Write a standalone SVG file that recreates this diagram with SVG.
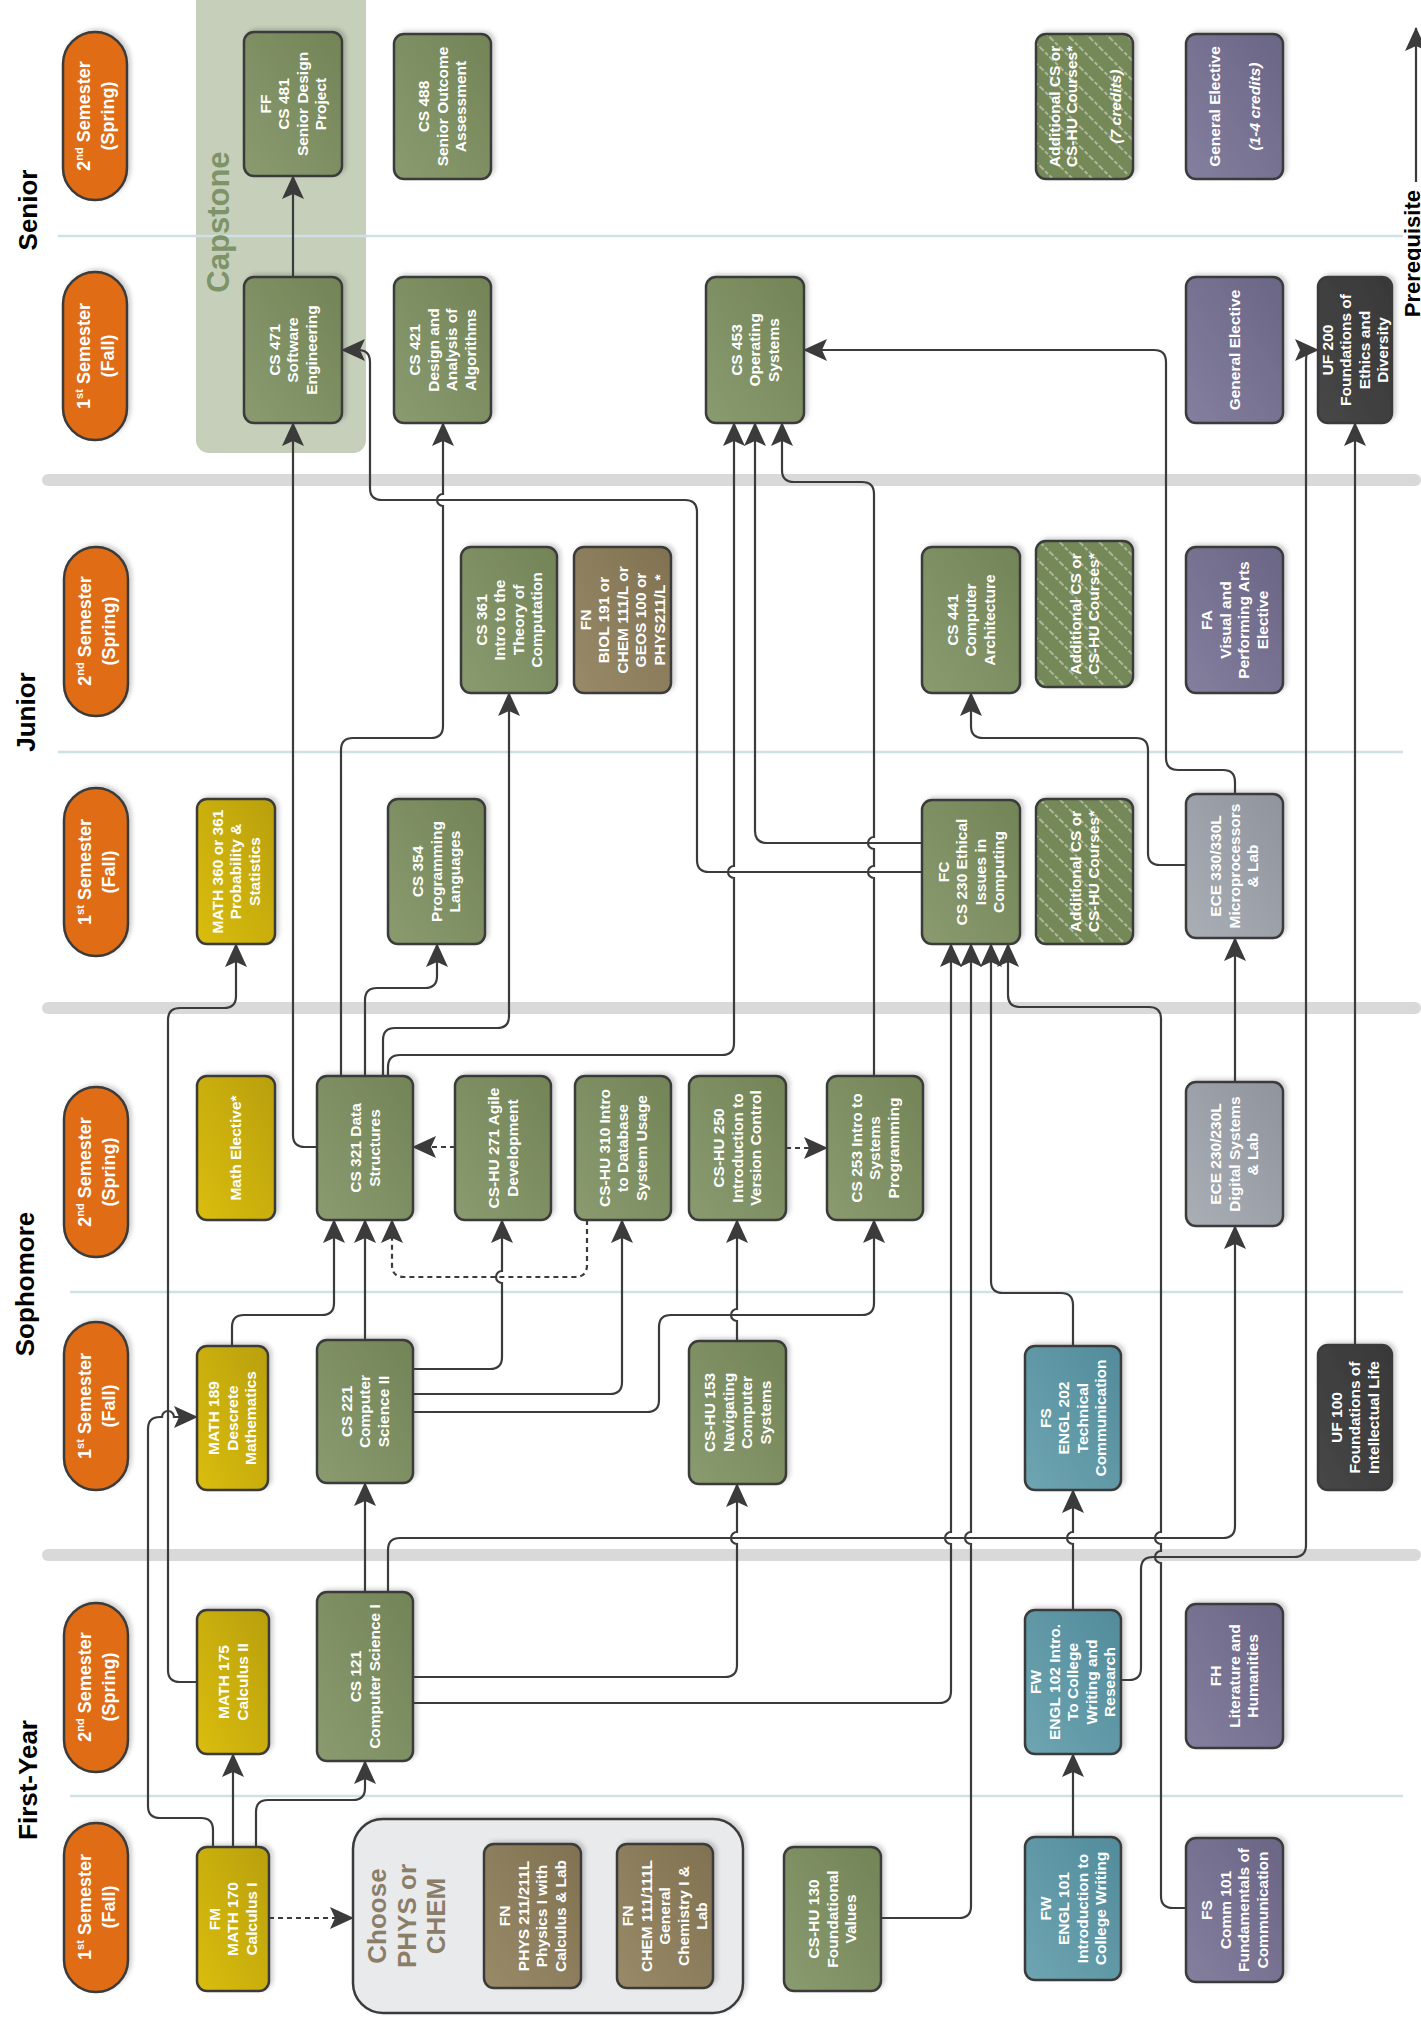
<svg xmlns="http://www.w3.org/2000/svg" width="1421" height="2018" viewBox="0 0 1421 2018">
<style>
.n{stroke:#3b3b3b;stroke-width:2.5;filter:url(#sh)}
.pill{fill:#E06C12;stroke:#3b3b3b;stroke-width:2.5;filter:url(#sh)}
.green{fill:url(#gGreen)}.yellow{fill:url(#gYellow)}.teal{fill:url(#gTeal)}.purple{fill:url(#gPurple)}.gray{fill:url(#gGray)}.brown{fill:url(#gBrown)}.dark{fill:url(#gDark)}.hatch{fill:url(#hatch)}
.t{font-family:"Liberation Sans",Arial,sans-serif;font-weight:700;font-size:15.5px;fill:#fff;text-anchor:middle}
.p{font-family:"Liberation Sans",Arial,sans-serif;font-weight:700;font-size:18px;fill:#fff;text-anchor:middle}
.yr{font-family:"Liberation Sans",Arial,sans-serif;font-weight:700;font-size:26px;fill:#000;text-anchor:middle}
.c{fill:none;stroke:#3b3b3b;stroke-width:2.2;marker-end:url(#arr)}
.d{stroke-dasharray:5 4}
.div{stroke:#CFE0E6;stroke-width:2.5}
.band{stroke:#D9D9D9;stroke-width:12;stroke-linecap:round}
</style>
<defs>
<filter id="sh" x="-15%" y="-15%" width="135%" height="135%"><feDropShadow dx="3" dy="-2" stdDeviation="2" flood-color="#000" flood-opacity="0.18"/></filter>
<linearGradient id="gGreen" x1="0" y1="1" x2="1" y2="0"><stop offset="0" stop-color="#8A9B70"/><stop offset="1" stop-color="#728456"/></linearGradient>
<linearGradient id="gYellow" x1="0" y1="1" x2="1" y2="0"><stop offset="0" stop-color="#DABD10"/><stop offset="1" stop-color="#B9A00C"/></linearGradient>
<linearGradient id="gTeal" x1="0" y1="1" x2="1" y2="0"><stop offset="0" stop-color="#6EA5B1"/><stop offset="1" stop-color="#528B9B"/></linearGradient>
<linearGradient id="gPurple" x1="0" y1="1" x2="1" y2="0"><stop offset="0" stop-color="#847F9E"/><stop offset="1" stop-color="#6A6585"/></linearGradient>
<linearGradient id="gGray" x1="0" y1="1" x2="1" y2="0"><stop offset="0" stop-color="#AAAEB5"/><stop offset="1" stop-color="#8F949D"/></linearGradient>
<linearGradient id="gBrown" x1="0" y1="1" x2="1" y2="0"><stop offset="0" stop-color="#998A68"/><stop offset="1" stop-color="#807151"/></linearGradient>
<linearGradient id="gDark" x1="0" y1="1" x2="1" y2="0"><stop offset="0" stop-color="#474747"/><stop offset="1" stop-color="#383838"/></linearGradient>
<pattern id="hatch" width="14" height="14" patternUnits="userSpaceOnUse" patternTransform="rotate(-45)"><rect width="14" height="14" fill="#758859"/><line x1="2" y1="0" x2="2" y2="14" stroke="#C9D2BA" stroke-width="1.3" stroke-dasharray="4 2"/></pattern>
<marker id="arr" viewBox="0 0 24 24" refX="23" refY="12" markerWidth="24" markerHeight="24" markerUnits="userSpaceOnUse" orient="auto"><path d="M0,1 L24,12 L0,23 L5,12 z" fill="#3b3b3b"/></marker>
</defs>
<rect width="1421" height="2018" fill="#fff"/>

<g id="capstone-bg"><rect x="196" y="-12" width="170" height="465" rx="13" fill="#C5CFBA"/></g>

<g id="grid">
<line class="band" x1="48" y1="480" x2="1415" y2="480"/>
<line class="band" x1="48" y1="1008" x2="1415" y2="1008"/>
<line class="band" x1="48" y1="1555" x2="1415" y2="1555"/>
<line class="div" x1="58" y1="236" x2="1403" y2="236"/>
<line class="div" x1="58" y1="752" x2="1403" y2="752"/>
<line class="div" x1="70" y1="1292" x2="1403" y2="1292"/>
<line class="div" x1="70" y1="1796" x2="1403" y2="1796"/>
</g>

<g id="capstone-label"><text transform="translate(229,222) rotate(-90)" font-family="Liberation Sans, Arial, sans-serif" font-weight="700" font-size="31" fill="#7D9469" text-anchor="middle">Capstone</text></g>

<g id="year-labels">
<text class="yr" transform="translate(37,210) rotate(-90)">Senior</text>
<text class="yr" transform="translate(35,712) rotate(-90)">Junior</text>
<text class="yr" transform="translate(34,1284) rotate(-90)">Sophomore</text>
<text class="yr" transform="translate(37,1780) rotate(-90)">First-Year</text>
</g>

<g id="sem-sr2"><rect class="pill" x="63" y="32" width="64" height="168" rx="32"/><text class="p" transform="translate(95,116) rotate(-90)"><tspan x="0" y="-5.5">2</tspan><tspan dy="-7" font-size="11">nd</tspan><tspan dy="7"> Semester</tspan><tspan x="0" y="18.5">(Spring)</tspan></text></g>
<g id="sem-sr1"><rect class="pill" x="63" y="272" width="64" height="168" rx="32"/><text class="p" transform="translate(95,356) rotate(-90)"><tspan x="0" y="-5.5">1</tspan><tspan dy="-7" font-size="11">st</tspan><tspan dy="7"> Semester</tspan><tspan x="0" y="18.5">(Fall)</tspan></text></g>
<g id="sem-jr2"><rect class="pill" x="64" y="547" width="64" height="169" rx="32"/><text class="p" transform="translate(96,631) rotate(-90)"><tspan x="0" y="-5.5">2</tspan><tspan dy="-7" font-size="11">nd</tspan><tspan dy="7"> Semester</tspan><tspan x="0" y="18.5">(Spring)</tspan></text></g>
<g id="sem-jr1"><rect class="pill" x="64" y="788" width="64" height="168" rx="32"/><text class="p" transform="translate(96,872) rotate(-90)"><tspan x="0" y="-5.5">1</tspan><tspan dy="-7" font-size="11">st</tspan><tspan dy="7"> Semester</tspan><tspan x="0" y="18.5">(Fall)</tspan></text></g>
<g id="sem-so2"><rect class="pill" x="64" y="1087" width="64" height="170" rx="32"/><text class="p" transform="translate(96,1172) rotate(-90)"><tspan x="0" y="-5.5">2</tspan><tspan dy="-7" font-size="11">nd</tspan><tspan dy="7"> Semester</tspan><tspan x="0" y="18.5">(Spring)</tspan></text></g>
<g id="sem-so1"><rect class="pill" x="64" y="1322" width="64" height="168" rx="32"/><text class="p" transform="translate(96,1406) rotate(-90)"><tspan x="0" y="-5.5">1</tspan><tspan dy="-7" font-size="11">st</tspan><tspan dy="7"> Semester</tspan><tspan x="0" y="18.5">(Fall)</tspan></text></g>
<g id="sem-fy2"><rect class="pill" x="64" y="1603" width="64" height="169" rx="32"/><text class="p" transform="translate(96,1687) rotate(-90)"><tspan x="0" y="-5.5">2</tspan><tspan dy="-7" font-size="11">nd</tspan><tspan dy="7"> Semester</tspan><tspan x="0" y="18.5">(Spring)</tspan></text></g>
<g id="sem-fy1"><rect class="pill" x="64" y="1823" width="64" height="169" rx="32"/><text class="p" transform="translate(96,1907) rotate(-90)"><tspan x="0" y="-5.5">1</tspan><tspan dy="-7" font-size="11">st</tspan><tspan dy="7"> Semester</tspan><tspan x="0" y="18.5">(Fall)</tspan></text></g>

<g id="cs481"><rect class="n green" x="244" y="32" width="98" height="144" rx="10"/><text class="t" transform="translate(293,104) rotate(-90)"><tspan x="0" y="-22.35">FF</tspan><tspan x="0" y="-3.85">CS 481</tspan><tspan x="0" y="14.65">Senior Design</tspan><tspan x="0" y="33.15">Project</tspan></text></g>
<g id="cs488"><rect class="n green" x="394" y="34" width="97" height="145" rx="10"/><text class="t" transform="translate(442.5,106.5) rotate(-90)"><tspan x="0" y="-13.1">CS 488</tspan><tspan x="0" y="5.4">Senior Outcome</tspan><tspan x="0" y="23.9">Assessment</tspan></text></g>
<g id="addcs-sr"><rect class="n hatch" x="1036" y="34" width="97" height="145" rx="10"/><text class="t" transform="translate(1084.5,106.5) rotate(-90)"><tspan x="0" y="-24.1">Additional CS or</tspan><tspan x="0" y="-7.1">CS-HU Courses*</tspan><tspan x="0" y="36.9" font-style="italic">(7 credits)</tspan></text></g>
<g id="gen-sr2"><rect class="n purple" x="1186" y="34" width="97" height="145" rx="10"/><text class="t" transform="translate(1234.5,106.5) rotate(-90)"><tspan x="0" y="-14.1">General Elective</tspan><tspan x="0" y="25.9" font-style="italic">(1-4 credits)</tspan></text></g>
<g id="cs471"><rect class="n green" x="244" y="277" width="98" height="146" rx="10"/><text class="t" transform="translate(293,350) rotate(-90)"><tspan x="0" y="-13.1">CS 471</tspan><tspan x="0" y="5.4">Software</tspan><tspan x="0" y="23.9">Engineering</tspan></text></g>
<g id="cs421"><rect class="n green" x="394" y="277" width="97" height="146" rx="10"/><text class="t" transform="translate(442.5,350) rotate(-90)"><tspan x="0" y="-22.35">CS 421</tspan><tspan x="0" y="-3.85">Design and</tspan><tspan x="0" y="14.65">Analysis of</tspan><tspan x="0" y="33.15">Algorithms</tspan></text></g>
<g id="cs453"><rect class="n green" x="706" y="277" width="98" height="146" rx="10"/><text class="t" transform="translate(755,350) rotate(-90)"><tspan x="0" y="-13.1">CS 453</tspan><tspan x="0" y="5.4">Operating</tspan><tspan x="0" y="23.9">Systems</tspan></text></g>
<g id="gen-sr1"><rect class="n purple" x="1186" y="277" width="97" height="146" rx="10"/><text class="t" transform="translate(1234.5,350) rotate(-90)"><tspan x="0" y="5.4">General Elective</tspan></text></g>
<g id="uf200"><rect class="n dark" x="1318" y="277" width="74" height="146" rx="10"/><text class="t" transform="translate(1355,350) rotate(-90)"><tspan x="0" y="-22.35">UF 200</tspan><tspan x="0" y="-3.85">Foundations of</tspan><tspan x="0" y="14.65">Ethics and</tspan><tspan x="0" y="33.15">Diversity</tspan></text></g>

<g id="cs361"><rect class="n green" x="461" y="547" width="96" height="146" rx="10"/><text class="t" transform="translate(509,620) rotate(-90)"><tspan x="0" y="-22.35">CS 361</tspan><tspan x="0" y="-3.85">Intro to the</tspan><tspan x="0" y="14.65">Theory of</tspan><tspan x="0" y="33.15">Computation</tspan></text></g>
<g id="fn-sci"><rect class="n brown" x="574" y="547" width="97" height="146" rx="10"/><text class="t" transform="translate(622.5,620) rotate(-90)"><tspan x="0" y="-31.6">FN</tspan><tspan x="0" y="-13.1">BIOL 191 or</tspan><tspan x="0" y="5.4">CHEM 111/L or</tspan><tspan x="0" y="23.9">GEOS 100 or</tspan><tspan x="0" y="42.4">PHYS211/L *</tspan></text></g>
<g id="cs441"><rect class="n green" x="922" y="547" width="98" height="146" rx="10"/><text class="t" transform="translate(971,620) rotate(-90)"><tspan x="0" y="-13.1">CS 441</tspan><tspan x="0" y="5.4">Computer</tspan><tspan x="0" y="23.9">Architecture</tspan></text></g>
<g id="addcs-jr2"><rect class="n hatch" x="1036" y="541" width="97" height="146" rx="10"/><text class="t" transform="translate(1084.5,614) rotate(-90)"><tspan x="0" y="-3.85">Additional CS or</tspan><tspan x="0" y="14.65">CS-HU Courses*</tspan></text></g>
<g id="fa"><rect class="n purple" x="1186" y="547" width="97" height="146" rx="10"/><text class="t" transform="translate(1234.5,620) rotate(-90)"><tspan x="0" y="-22.35">FA</tspan><tspan x="0" y="-3.85">Visual and</tspan><tspan x="0" y="14.65">Performing Arts</tspan><tspan x="0" y="33.15">Elective</tspan></text></g>

<g id="math360"><rect class="n yellow" x="197" y="799" width="78" height="145" rx="10"/><text class="t" transform="translate(236,871.5) rotate(-90)"><tspan x="0" y="-13.1">MATH 360 or 361</tspan><tspan x="0" y="5.4">Probability &amp;</tspan><tspan x="0" y="23.9">Statistics</tspan></text></g>
<g id="cs354"><rect class="n green" x="388" y="799" width="97" height="145" rx="10"/><text class="t" transform="translate(436.5,871.5) rotate(-90)"><tspan x="0" y="-13.1">CS 354</tspan><tspan x="0" y="5.4">Programming</tspan><tspan x="0" y="23.9">Languages</tspan></text></g>
<g id="cs230"><rect class="n green" x="922" y="800" width="98" height="144" rx="10"/><text class="t" transform="translate(971,872) rotate(-90)"><tspan x="0" y="-22.35">FC</tspan><tspan x="0" y="-3.85">CS 230 Ethical</tspan><tspan x="0" y="14.65">Issues in</tspan><tspan x="0" y="33.15">Computing</tspan></text></g>
<g id="addcs-jr1"><rect class="n hatch" x="1036" y="799" width="97" height="145" rx="10"/><text class="t" transform="translate(1084.5,871.5) rotate(-90)"><tspan x="0" y="-3.85">Additional CS or</tspan><tspan x="0" y="14.65">CS-HU Courses*</tspan></text></g>
<g id="ece330"><rect class="n gray" x="1186" y="794" width="97" height="144" rx="10"/><text class="t" transform="translate(1234.5,866) rotate(-90)"><tspan x="0" y="-13.1">ECE 330/330L</tspan><tspan x="0" y="5.4">Microprocessors</tspan><tspan x="0" y="23.9">&amp; Lab</tspan></text></g>

<g id="math-elective"><rect class="n yellow" x="197" y="1076" width="78" height="144" rx="10"/><text class="t" transform="translate(236,1148) rotate(-90)"><tspan x="0" y="5.4">Math Elective*</tspan></text></g>
<g id="cs321"><rect class="n green" x="317" y="1076" width="96" height="144" rx="10"/><text class="t" transform="translate(365,1148) rotate(-90)"><tspan x="0" y="-3.85">CS 321 Data</tspan><tspan x="0" y="14.65">Structures</tspan></text></g>
<g id="cshu271"><rect class="n green" x="455" y="1076" width="96" height="144" rx="10"/><text class="t" transform="translate(503,1148) rotate(-90)"><tspan x="0" y="-3.85">CS-HU 271 Agile</tspan><tspan x="0" y="14.65">Development</tspan></text></g>
<g id="cshu310"><rect class="n green" x="575" y="1076" width="96" height="144" rx="10"/><text class="t" transform="translate(623,1148) rotate(-90)"><tspan x="0" y="-13.1">CS-HU 310 Intro</tspan><tspan x="0" y="5.4">to Database</tspan><tspan x="0" y="23.9">System Usage</tspan></text></g>
<g id="cshu250"><rect class="n green" x="689" y="1076" width="97" height="144" rx="10"/><text class="t" transform="translate(737.5,1148) rotate(-90)"><tspan x="0" y="-13.1">CS-HU 250</tspan><tspan x="0" y="5.4">Introduction to</tspan><tspan x="0" y="23.9">Version Control</tspan></text></g>
<g id="cs253"><rect class="n green" x="827" y="1076" width="96" height="144" rx="10"/><text class="t" transform="translate(875,1148) rotate(-90)"><tspan x="0" y="-13.1">CS 253 Intro to</tspan><tspan x="0" y="5.4">Systems</tspan><tspan x="0" y="23.9">Programming</tspan></text></g>
<g id="ece230"><rect class="n gray" x="1186" y="1082" width="97" height="144" rx="10"/><text class="t" transform="translate(1234.5,1154) rotate(-90)"><tspan x="0" y="-13.1">ECE 230/230L</tspan><tspan x="0" y="5.4">Digital Systems</tspan><tspan x="0" y="23.9">&amp; Lab</tspan></text></g>

<g id="math189"><rect class="n yellow" x="197" y="1346" width="71" height="144" rx="10"/><text class="t" transform="translate(232.5,1418) rotate(-90)"><tspan x="0" y="-13.1">MATH 189</tspan><tspan x="0" y="5.4">Descrete</tspan><tspan x="0" y="23.9">Mathematics</tspan></text></g>
<g id="cs221"><rect class="n green" x="317" y="1340" width="96" height="143" rx="10"/><text class="t" transform="translate(365,1411.5) rotate(-90)"><tspan x="0" y="-13.1">CS 221</tspan><tspan x="0" y="5.4">Computer</tspan><tspan x="0" y="23.9">Science II</tspan></text></g>
<g id="cshu153"><rect class="n green" x="689" y="1341" width="97" height="143" rx="10"/><text class="t" transform="translate(737.5,1412.5) rotate(-90)"><tspan x="0" y="-22.35">CS-HU 153</tspan><tspan x="0" y="-3.85">Navigating</tspan><tspan x="0" y="14.65">Computer</tspan><tspan x="0" y="33.15">Systems</tspan></text></g>
<g id="engl202"><rect class="n teal" x="1025" y="1346" width="96" height="144" rx="10"/><text class="t" transform="translate(1073,1418) rotate(-90)"><tspan x="0" y="-22.35">FS</tspan><tspan x="0" y="-3.85">ENGL 202</tspan><tspan x="0" y="14.65">Technical</tspan><tspan x="0" y="33.15">Communication</tspan></text></g>
<g id="uf100"><rect class="n dark" x="1318" y="1345" width="74" height="145" rx="10"/><text class="t" transform="translate(1355,1417.5) rotate(-90)"><tspan x="0" y="-13.1">UF 100</tspan><tspan x="0" y="5.4">Foundations of</tspan><tspan x="0" y="23.9">Intellectual Life</tspan></text></g>

<g id="math175"><rect class="n yellow" x="197" y="1610" width="72" height="144" rx="10"/><text class="t" transform="translate(233,1682) rotate(-90)"><tspan x="0" y="-3.85">MATH 175</tspan><tspan x="0" y="14.65">Calculus II</tspan></text></g>
<g id="cs121"><rect class="n green" x="317" y="1592" width="96" height="169" rx="10"/><text class="t" transform="translate(365,1676.5) rotate(-90)"><tspan x="0" y="-3.85">CS 121</tspan><tspan x="0" y="14.65">Computer Science I</tspan></text></g>
<g id="engl102"><rect class="n teal" x="1025" y="1610" width="96" height="144" rx="10"/><text class="t" transform="translate(1073,1682) rotate(-90)"><tspan x="0" y="-31.6">FW</tspan><tspan x="0" y="-13.1">ENGL 102 Intro.</tspan><tspan x="0" y="5.4">To College</tspan><tspan x="0" y="23.9">Writing and</tspan><tspan x="0" y="42.4">Research</tspan></text></g>
<g id="fh"><rect class="n purple" x="1186" y="1604" width="97" height="144" rx="10"/><text class="t" transform="translate(1234.5,1676) rotate(-90)"><tspan x="0" y="-13.1">FH</tspan><tspan x="0" y="5.4">Literature and</tspan><tspan x="0" y="23.9">Humanities</tspan></text></g>

<g id="math170"><rect class="n yellow" x="197" y="1847" width="72" height="144" rx="10"/><text class="t" transform="translate(233,1919) rotate(-90)"><tspan x="0" y="-13.1">FM</tspan><tspan x="0" y="5.4">MATH 170</tspan><tspan x="0" y="23.9">Calculus I</tspan></text></g>
<g id="choose"><rect x="353" y="1819" width="390" height="194" rx="30" fill="#E9EAEC" stroke="#3b3b3b" stroke-width="2.5" filter="url(#sh)"/><text transform="translate(406,1916) rotate(-90)" font-family="Liberation Sans, Arial, sans-serif" font-weight="700" font-size="26" fill="#8B7E69" text-anchor="middle"><tspan x="0" y="-20">Choose</tspan><tspan x="0" y="9.5">PHYS or</tspan><tspan x="0" y="39">CHEM</tspan></text></g>
<g id="phys211"><rect class="n brown" x="484" y="1844" width="97" height="144" rx="10"/><text class="t" transform="translate(532.5,1916) rotate(-90)"><tspan x="0" y="-22.35">FN</tspan><tspan x="0" y="-3.85">PHYS 211/211L</tspan><tspan x="0" y="14.65">Physics I with</tspan><tspan x="0" y="33.15">Calculus &amp; Lab</tspan></text></g>
<g id="chem111"><rect class="n brown" x="617" y="1844" width="96" height="144" rx="10"/><text class="t" transform="translate(665,1916) rotate(-90)"><tspan x="0" y="-31.6">FN</tspan><tspan x="0" y="-13.1">CHEM 111/111L</tspan><tspan x="0" y="5.4">General</tspan><tspan x="0" y="23.9">Chemistry I &amp;</tspan><tspan x="0" y="42.4">Lab</tspan></text></g>
<g id="cshu130"><rect class="n green" x="784" y="1847" width="97" height="144" rx="10"/><text class="t" transform="translate(832.5,1919) rotate(-90)"><tspan x="0" y="-13.1">CS-HU 130</tspan><tspan x="0" y="5.4">Foundational</tspan><tspan x="0" y="23.9">Values</tspan></text></g>
<g id="engl101"><rect class="n teal" x="1025" y="1837" width="96" height="143" rx="10"/><text class="t" transform="translate(1073,1908.5) rotate(-90)"><tspan x="0" y="-22.35">FW</tspan><tspan x="0" y="-3.85">ENGL 101</tspan><tspan x="0" y="14.65">Introduction to</tspan><tspan x="0" y="33.15">College Writing</tspan></text></g>
<g id="comm101"><rect class="n purple" x="1186" y="1838" width="97" height="144" rx="10"/><text class="t" transform="translate(1234.5,1910) rotate(-90)"><tspan x="0" y="-22.35">FS</tspan><tspan x="0" y="-3.85">Comm 101</tspan><tspan x="0" y="14.65">Fundamentals of</tspan><tspan x="0" y="33.15">Communication</tspan></text></g>

<g id="connectors">
<path class="c" d="M293,277 L293,176"/>
<path class="c" d="M317,1147 L305,1147 Q293,1147 293,1135 L293,423"/>
<path class="c" d="M922,872 L709,872 Q697,872 697,860 L697,512 Q697,500 685,500 L382,500 Q370,500 370,488 L370,362 Q370,350 358,350 L342,350"/>
<path class="c" d="M341,1076 L341,750 Q341,738 353,738 L431,738 Q443,738 443,726 L443,506 A6,6 0 0 1 443,494 L443,423"/>
<path class="c" d="M365,1076 L365,1000 Q365,988 377,988 L425,988 Q437,988 437,976 L437,944"/>
<path class="c" d="M383,1076 L383,1040 Q383,1028 395,1028 L497,1028 Q509,1028 509,1016 L509,693"/>
<path class="c" d="M388,1076 L388,1067 Q388,1055 400,1055 L722,1055 Q734,1055 734,1043 L734,878 A6,6 0 0 1 734,866 L734,423"/>
<path class="c" d="M922,843 L767,843 Q755,843 755,831 L755,423"/>
<path class="c" d="M874,1076 L874,878 A6,6 0 0 1 874,866 L874,849 A6,6 0 0 1 874,837 L874,494 Q874,482 862,482 L794,482 Q782,482 782,470 L782,423"/>
<path class="c" d="M1235,794 L1235,782 Q1235,770 1223,770 L1178,770 Q1166,770 1166,758 L1166,362 Q1166,350 1154,350 L804,350"/>
<path class="c" d="M1186,865 L1160,865 Q1148,865 1148,853 L1148,750 Q1148,738 1136,738 L983,738 Q971,738 971,726 L971,693"/>
<path class="c" d="M1235,1082 L1235,938"/>
<path class="c" d="M388,1592 L388,1550 Q388,1538 400,1538 L1223,1538 Q1235,1538 1235,1526 L1235,1226"/>
<path class="c" d="M413,1677 L725,1677 Q737,1677 737,1665 L737,1544 A6,6 0 0 1 737,1532 L737,1484"/>
<path class="c" d="M413,1703 L939,1703 Q951,1703 951,1691 L951,1544 A6,6 0 0 1 951,1532 L951,944"/>
<path class="c" d="M881,1918 L959,1918 Q971,1918 971,1906 L971,1544 A6,6 0 0 1 971,1532 L971,944"/>
<path class="c" d="M1073,1346 L1073,1305 Q1073,1293 1061,1293 L1003,1293 Q991,1293 991,1281 L991,944"/>
<path class="c" d="M1186,1908 L1173,1908 Q1161,1908 1161,1896 L1161,1563 A6,6 0 0 1 1161,1551 L1161,1544 A6,6 0 0 1 1161,1532 L1161,1019 Q1161,1007 1149,1007 L1020,1007 Q1008,1007 1008,995 L1008,944"/>
<path class="c" d="M233,1847 L233,1754"/>
<path class="c" d="M256,1847 L256,1812 Q256,1800 268,1800 L353,1800 Q365,1800 365,1788 L365,1761"/>
<path class="c" d="M213,1847 L213,1830 Q213,1818 201,1818 L160,1818 Q148,1818 148,1806 L148,1429 Q148,1417 160,1417 L162,1417 A6,6 0 0 1 174,1417 L197,1417"/>
<path class="c" d="M197,1682 L180,1682 Q168,1682 168,1670 L168,1020 Q168,1008 180,1008 L224,1008 Q236,1008 236,996 L236,944"/>
<path class="c" d="M232,1346 L232,1327 Q232,1315 244,1315 L322,1315 Q334,1315 334,1303 L334,1220"/>
<path class="c" d="M365,1340 L365,1220"/>
<path class="c d" d="M587,1220 L587,1265 Q587,1277 575,1277 L404,1277 Q392,1277 392,1265 L392,1220"/>
<path class="c" d="M413,1369 L490,1369 Q502,1369 502,1357 L502,1283 A6,6 0 0 1 502,1271 L502,1220"/>
<path class="c" d="M413,1394 L610,1394 Q622,1394 622,1382 L622,1220"/>
<path class="c" d="M413,1412 L647,1412 Q659,1412 659,1400 L659,1327 Q659,1315 671,1315 L862,1315 Q874,1315 874,1303 L874,1220"/>
<path class="c" d="M737,1341 L737,1321 A6,6 0 0 1 737,1309 L737,1220"/>
<path class="c d" d="M786,1148 L827,1148"/>
<path class="c d" d="M455,1147 L413,1147"/>
<path class="c" d="M365,1592 L365,1483"/>
<path class="c d" d="M269,1918 L353,1918"/>
<path class="c" d="M1073,1837 L1073,1754"/>
<path class="c" d="M1073,1610 L1073,1544 A6,6 0 0 1 1073,1532 L1073,1490"/>
<path class="c" d="M1121,1680 L1129,1680 Q1141,1680 1141,1668 L1141,1569 Q1141,1557 1153,1557 L1294,1557 Q1306,1557 1306,1545 L1306,360 Q1306,350 1312,350 L1318,350"/>
<path class="c" d="M1355,1345 L1355,423"/>
</g>

<g id="legend">
<path class="c" d="M1416,182 L1416,28"/>
<text transform="translate(1420,190) rotate(-90)" font-family="Liberation Sans, Arial, sans-serif" font-weight="700" font-size="22" fill="#000" text-anchor="end">Prerequisite</text>
</g>
</svg>
